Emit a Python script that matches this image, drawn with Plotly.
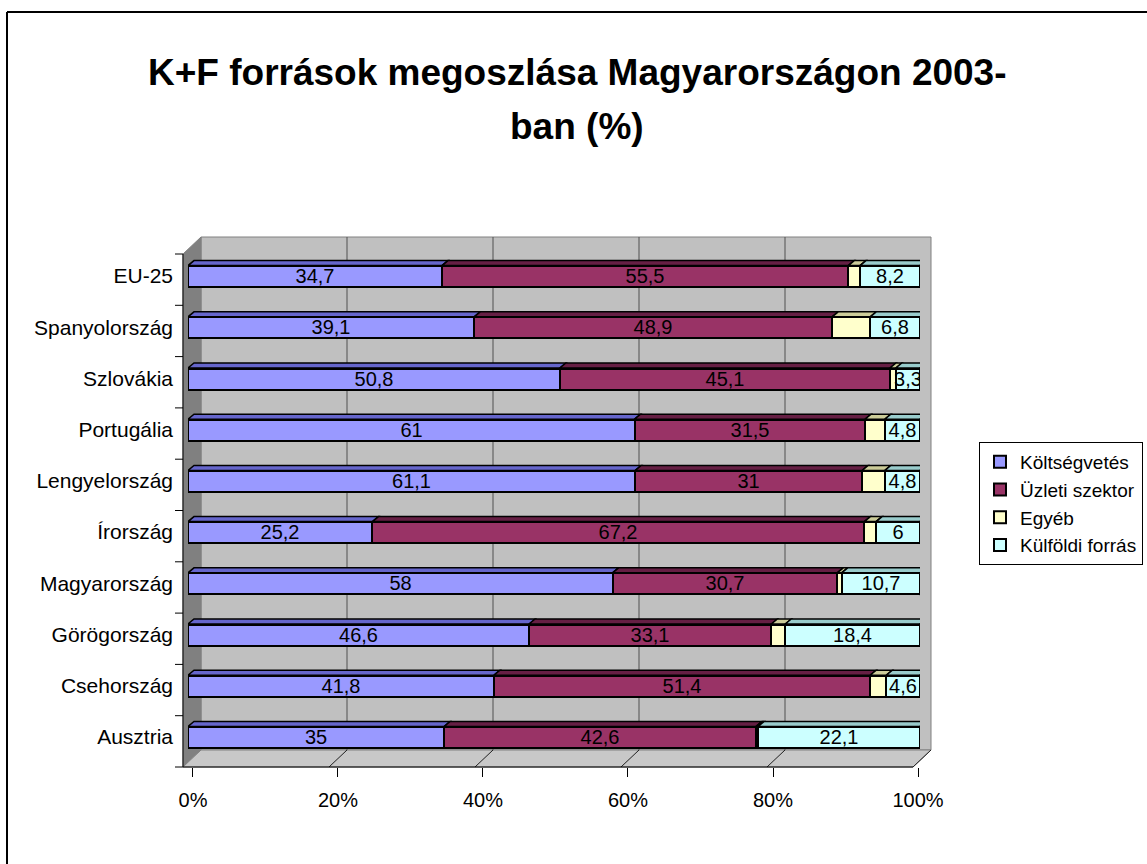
import plotly.graph_objects as go

# ---------------- data (bottom to top, as in the chart) ----------------
categories = ["Ausztria", "Csehország", "Görögország", "Magyarország", "Írország",
              "Lengyelország", "Portugália", "Szlovákia", "Spanyolország", "EU-25"]
koltsegvetes = [35, 41.8, 46.6, 58, 25.2, 61.1, 61, 50.8, 39.1, 34.7]
uzleti = [42.6, 51.4, 33.1, 30.7, 67.2, 31, 31.5, 45.1, 48.9, 55.5]
egyeb = [0.3, 2.2, 1.9, 0.6, 1.6, 3.1, 2.7, 0.8, 5.2, 1.6]
kulfoldi = [22.1, 4.6, 18.4, 10.7, 6, 4.8, 4.8, 3.3, 6.8, 8.2]
series_names = ["Költségvetés", "Üzleti szektor", "Egyéb", "Külföldi forrás"]
x_ticks = [0, 20, 40, 60, 80, 100]
x_tick_labels = ["0%", "20%", "40%", "60%", "80%", "100%"]

# ---------------- styling ----------------
W, H = 1147, 864
FONT = "Liberation Sans, Arial, sans-serif"
face_colors = ["#9999FF", "#993366", "#FFFFCC", "#CCFFFF"]
top_colors = ["#6666CC", "#661F44", "#CCCC99", "#99CCCC"]
side_color = "#669999"
show_labels = [True, True, False, True]


def fx(p):
    return p / W


def fy(p):
    return 1 - p / H


def fmt(v):
    return f"{v:g}".replace(".", ",")


# pixel geometry of the 3-D box
FRONT_L, FRONT_R, FRONT_T, FRONT_B = 183, 913, 254, 767
DX, DY = 18, 17            # depth offset of back wall
BAR_L, BAR_R = 188, 920    # bar scale (mid-depth)
BAR_T, BAR_B = 250.5, 762.5
BAR_W = 0.41

series = [koltsegvetes, uzleti, egyeb, kulfoldi]
n = len(categories)
idx = list(range(n))

fig = go.Figure()
for s, name in enumerate(series_names):
    vals = series[s]
    fig.add_trace(go.Bar(
        y=idx, x=vals, name=name, orientation="h", width=BAR_W,
        marker=dict(color=face_colors[s], line=dict(color="black", width=2)),
        text=[fmt(v) for v in vals] if show_labels[s] else None,
        textposition="inside" if show_labels[s] else "none",
        insidetextanchor="middle", textangle=0,
        textfont=dict(family=FONT, size=20, color="black"),
        hoverinfo="skip",
    ))

# dummy trace for the visible percent axis
fig.add_trace(go.Scatter(x=[None], y=[None], xaxis="x2", yaxis="y",
                         showlegend=False, hoverinfo="skip"))

shapes = []
# outer chart border (only left and top edges are inside the picture)
shapes.append(dict(type="line", xref="paper", yref="paper",
                   x0=fx(7), x1=fx(7), y0=fy(12), y1=0,
                   line=dict(color="black", width=2), layer="below"))
shapes.append(dict(type="line", xref="paper", yref="paper",
                   x0=fx(7), x1=1, y0=fy(12), y1=fy(12),
                   line=dict(color="black", width=2), layer="below"))
# back wall
shapes.append(dict(type="rect", xref="paper", yref="paper",
                   x0=fx(FRONT_L + DX), x1=fx(FRONT_R + DX),
                   y0=fy(FRONT_B - DY), y1=fy(FRONT_T - DY),
                   fillcolor="#C0C0C0", line=dict(color="#808080", width=1),
                   layer="below"))
# side wall
shapes.append(dict(type="path", xref="paper", yref="paper",
                   path=f"M{fx(FRONT_L)},{fy(FRONT_T)} L{fx(FRONT_L+DX)},{fy(FRONT_T-DY)} "
                        f"L{fx(FRONT_L+DX)},{fy(FRONT_B-DY)} L{fx(FRONT_L)},{fy(FRONT_B)} Z",
                   fillcolor="#808080", line=dict(color="#808080", width=1), layer="below"))
# floor
shapes.append(dict(type="path", xref="paper", yref="paper",
                   path=f"M{fx(FRONT_L)},{fy(FRONT_B)} L{fx(FRONT_R)},{fy(FRONT_B)} "
                        f"L{fx(FRONT_R+DX)},{fy(FRONT_B-DY)} L{fx(FRONT_L+DX)},{fy(FRONT_B-DY)} Z",
                   fillcolor="#C8C8C8", line=dict(color="#808080", width=1), layer="below"))
# gridlines on back wall + floor diagonals
scale = (FRONT_R - FRONT_L) / 100.0
for v in x_ticks:
    xb = FRONT_L + DX + v * scale
    xf = FRONT_L + v * scale
    if 0 < v < 100:
        shapes.append(dict(type="line", xref="paper", yref="paper",
                           x0=fx(xb), x1=fx(xb), y0=fy(FRONT_T - DY), y1=fy(FRONT_B - DY),
                           line=dict(color="#505050", width=1), layer="below"))
    if v > 0:
        shapes.append(dict(type="line", xref="paper", yref="paper",
                           x0=fx(xf), x1=fx(xb), y0=fy(FRONT_B), y1=fy(FRONT_B - DY),
                           line=dict(color="#202020", width=1), layer="below"))
# front axis lines
shapes.append(dict(type="line", xref="paper", yref="paper",
                   x0=fx(FRONT_L), x1=fx(FRONT_R), y0=fy(FRONT_B), y1=fy(FRONT_B),
                   line=dict(color="black", width=1)))
shapes.append(dict(type="line", xref="paper", yref="paper",
                   x0=fx(FRONT_L), x1=fx(FRONT_L), y0=fy(FRONT_T), y1=fy(FRONT_B),
                   line=dict(color="black", width=1)))
band = (FRONT_B - FRONT_T) / n
for k in range(n + 1):
    yy = FRONT_T + k * band
    shapes.append(dict(type="line", xref="paper", yref="paper",
                       x0=fx(FRONT_L - 8), x1=fx(FRONT_L), y0=fy(yy), y1=fy(yy),
                       line=dict(color="black", width=1)))

# 3-D top faces / right side of the bars (from data)
ux = 100.0 / (BAR_R - BAR_L)
uy = n / (BAR_B - BAR_T)
ddx, ddy = 6 * ux, 5 * uy
for i in idx:
    total = sum(series[s][i] for s in range(4))
    cum = 0.0
    yt = i + BAR_W / 2
    yb = i - BAR_W / 2
    for s in range(4):
        x0 = cum / total * 100
        cum += series[s][i]
        x1 = cum / total * 100
        shapes.append(dict(type="path", xref="x", yref="y",
                           path=f"M{x0},{yt} L{x1},{yt} L{x1+ddx},{yt+ddy} L{x0+ddx},{yt+ddy} Z",
                           fillcolor=top_colors[s], line=dict(color="black", width=1.5)))
    shapes.append(dict(type="path", xref="x", yref="y",
                       path=f"M100,{yb} L100,{yt} L{100+ddx},{yt+ddy} L{100+ddx},{yb+ddy} Z",
                       fillcolor=side_color, line=dict(color="black", width=1.5)))

# range of overlaid percent axis so that 0..100 lands on the front edge
s_px = (FRONT_R - FRONT_L) / 100.0
r0 = (BAR_L - FRONT_L) / s_px
r1 = (BAR_R - FRONT_L) / s_px

fig.update_layout(
    width=W, height=H,
    margin=dict(l=0, r=0, t=0, b=0, autoexpand=False),
    paper_bgcolor="white", plot_bgcolor="rgba(0,0,0,0)",
    barmode="stack", barnorm="percent", bargap=0,
    uniformtext=dict(mode="show", minsize=20),
    font=dict(family=FONT, size=20, color="black"),
    showlegend=True,
    legend=dict(x=fx(979), y=fy(442), xanchor="left", yanchor="top",
                bordercolor="black", borderwidth=1, bgcolor="white",
                font=dict(family=FONT, size=19, color="black"),
                traceorder="normal", tracegroupgap=0),
    xaxis=dict(domain=[fx(BAR_L), fx(BAR_R)], range=[0, 100], visible=False,
               fixedrange=True),
    xaxis2=dict(overlaying="x", anchor="free", position=fy(FRONT_B),
                range=[-r0, r1 - r0], tickvals=x_ticks, ticktext=x_tick_labels,
                ticks="outside", ticklen=9, tickcolor="black", showline=False,
                showgrid=False, zeroline=False, fixedrange=True, ticklabelstandoff=6,
                tickfont=dict(family=FONT, size=20, color="black")),
    yaxis=dict(domain=[fy(BAR_B), fy(BAR_T)], range=[-0.5, n - 0.5],
               tickvals=idx, ticktext=categories, ticks="", showgrid=False,
               zeroline=False, showline=False, ticklabelstandoff=14,
               tickfont=dict(family=FONT, size=21, color="black"), fixedrange=True),
    shapes=shapes,
    annotations=[
        dict(text="<b>K+F források megoszlása Magyarországon 2003-</b>", xref="paper",
             yref="paper", x=fx(577), y=fy(73), xanchor="center", yanchor="middle",
             showarrow=False, font=dict(family=FONT, size=37, color="black")),
        dict(text="<b>ban (%)</b>", xref="paper", yref="paper", x=fx(577), y=fy(127),
             xanchor="center", yanchor="middle", showarrow=False,
             font=dict(family=FONT, size=37, color="black")),
    ],
)

fig.write_html("out.html", config={"displayModeBar": False},
               post_script="document.body.style.margin='0';document.body.style.overflow='hidden';")
